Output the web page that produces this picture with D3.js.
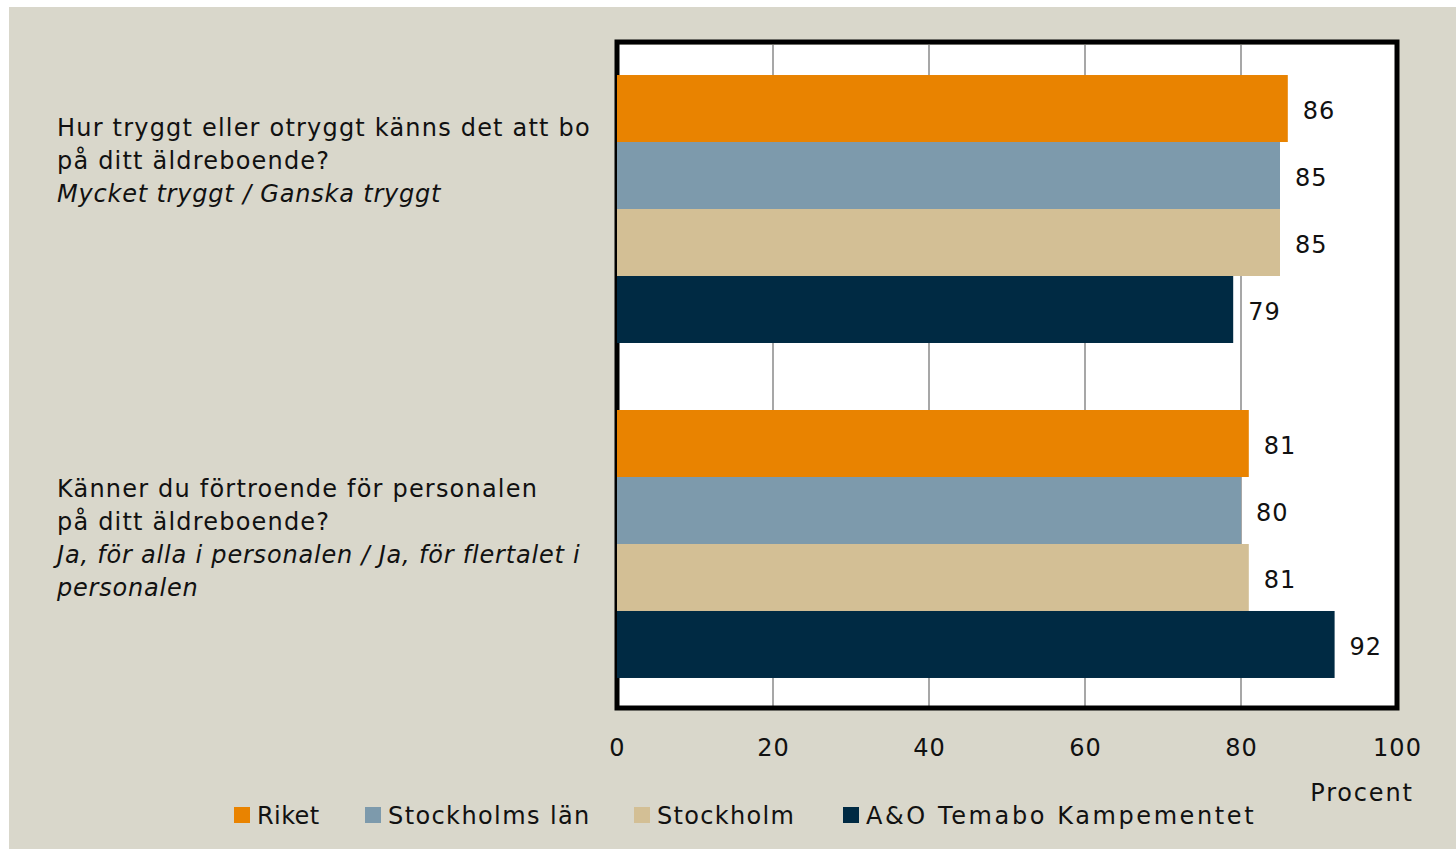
<!DOCTYPE html>
<html lang="sv">
<head>
<meta charset="utf-8"/>
<title>Trygghet och förtroende</title>
<script src="https://cdn.jsdelivr.net/npm/d3@7"></script>
<style>
  body { margin: 0; background: #ffffff; }
  svg text { font-family: "DejaVu Sans", sans-serif; fill: #111; }
</style>
</head>
<body>
<svg id="chart"></svg>
<script>
// data
const questions = ['q1', 'q2']
const questionLines = [
  [['Hur tryggt eller otryggt känns det att bo', false], ['på ditt äldreboende?', false], ['Mycket tryggt / Ganska tryggt', true]],
  [['Känner du förtroende för personalen', false], ['på ditt äldreboende?', false], ['Ja, för alla i personalen / Ja, för flertalet i', true], ['personalen', true]]
]
const seriesNames = ['Riket', 'Stockholms län', 'Stockholm', 'A&O Temabo Kampementet']
const seriesColors = ['#e98300', '#7d9aac', '#d3bf95', '#002a43']
const values = [
  [86, 85, 85, 79],
  [81, 80, 81, 92]
]
const ticks = [0, 20, 40, 60, 80, 100]

const width = 1456, height = 849

const svg = d3.select('#chart')
  .attr('width', width)
  .attr('height', height)

// background panel
svg.append('rect')
  .attr('x', 9).attr('y', 7)
  .attr('width', width - 9).attr('height', height - 7)
  .attr('fill', '#d9d7cb')

const plot = { left: 617, right: 1397, top: 45, bottom: 708 }

const x = d3.scaleLinear().domain([0, 100]).range([plot.left, plot.right])
const y = d3.scaleBand().domain(questions).range([plot.top, plot.bottom]).paddingInner(0.2).paddingOuter(0.0896)
const yInner = d3.scaleBand().domain(seriesNames).range([0, y.bandwidth()])

// plot area
svg.append('rect')
  .attr('x', plot.left).attr('y', plot.top)
  .attr('width', plot.right - plot.left).attr('height', plot.bottom - plot.top)
  .attr('fill', '#ffffff')

// gridlines
svg.append('g')
  .selectAll('line')
  .data(ticks.filter(d => d > 0 && d < 100))
  .enter()
  .append('line')
  .attr('x1', d => x(d)).attr('x2', d => x(d))
  .attr('y1', plot.top).attr('y2', plot.bottom)
  .attr('stroke', '#8a8a8a')
  .attr('stroke-width', 1.5)

// frame
svg.append('rect')
  .attr('x', plot.left).attr('y', plot.top - 3)
  .attr('width', plot.right - plot.left).attr('height', plot.bottom - plot.top + 3)
  .attr('fill', 'none')
  .attr('stroke', '#000')
  .attr('stroke-width', 5)

// bars
const groups = svg.append('g')
  .selectAll('g')
  .data(questions)
  .enter()
  .append('g')
  .attr('transform', d => `translate(0,${y(d)})`)

groups.selectAll('rect')
  .data((d, i) => values[i].map((v, j) => ({ v, s: seriesNames[j], c: seriesColors[j] })))
  .enter()
  .append('rect')
  .attr('x', x(0))
  .attr('y', d => yInner(d.s))
  .attr('width', d => x(d.v) - x(0))
  .attr('height', yInner.bandwidth())
  .attr('fill', d => d.c)

groups.selectAll('text')
  .data((d, i) => values[i].map((v, j) => ({ v, s: seriesNames[j] })))
  .enter()
  .append('text')
  .attr('x', d => x(d.v) + 15)
  .attr('y', d => yInner(d.s) + yInner.bandwidth() / 2 + 2)
  .attr('dy', '0.36em')
  .attr('font-size', 24)
  .attr('letter-spacing', 1)
  .text(d => d.v)

// x axis
const xAxis = svg.append('g')
  .attr('transform', `translate(0,${plot.bottom})`)
  .call(d3.axisBottom(x).tickValues(ticks).tickSize(0).tickPadding(31))
xAxis.select('.domain').remove()
xAxis.selectAll('text')
  .attr('font-size', 24)
  .attr('letter-spacing', 1)
  .attr('font-family', '"DejaVu Sans", sans-serif')
  .attr('fill', '#111')

svg.append('text')
  .attr('x', 1362).attr('y', 801)
  .attr('text-anchor', 'middle')
  .attr('font-size', 24)
  .attr('letter-spacing', 1.8)
  .text('Procent')

// question labels
const qTop = [127, 488]
questionLines.forEach((lines, i) => {
  svg.append('text')
    .attr('x', 57)
    .selectAll('tspan')
    .data(lines)
    .enter()
    .append('tspan')
    .attr('x', 57)
    .attr('y', (d, k) => qTop[i] + k * 33)
    .attr('dy', '0.36em')
    .attr('font-size', 24)
    .attr('letter-spacing', d => d[1] ? 0.8 : 1.2)
    .attr('font-style', d => d[1] ? 'italic' : 'normal')
    .text(d => d[0])
})

// legend
const legendX = [234, 365, 634, 843]
const legend = svg.append('g')
  .selectAll('g')
  .data(seriesNames)
  .enter()
  .append('g')
  .attr('transform', (d, i) => `translate(${legendX[i]},807)`)

legend.append('rect')
  .attr('width', 16).attr('height', 16)
  .attr('fill', (d, i) => seriesColors[i])

legend.append('text')
  .attr('x', 23).attr('y', 8)
  .attr('dy', '0.36em')
  .attr('font-size', 24)
  .attr('letter-spacing', (d, i) => [0.4, 1.4, 1.3, 2.6][i])
  .text(d => d)
</script>
</body>
</html>
